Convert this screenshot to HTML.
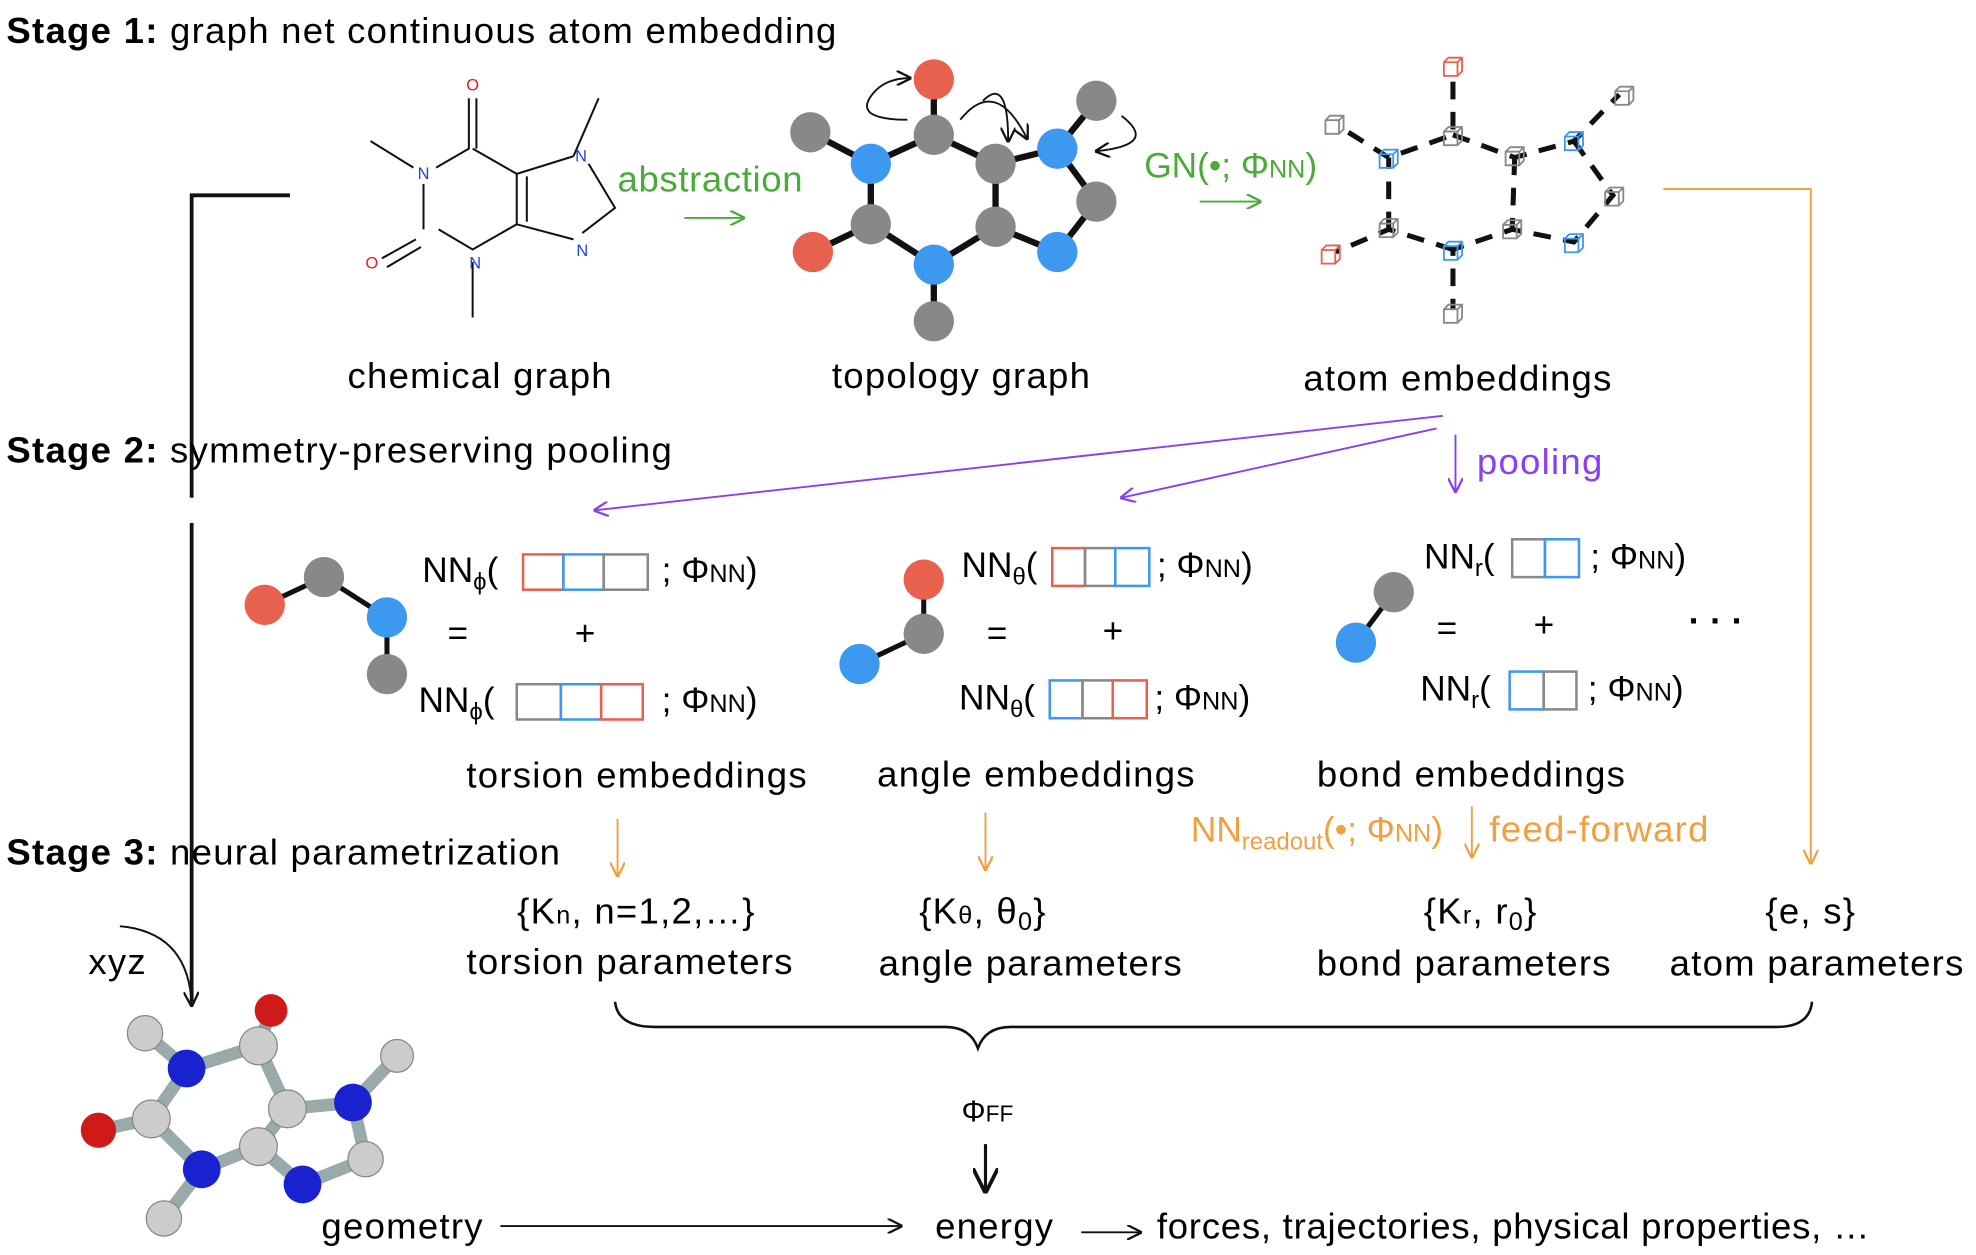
<!DOCTYPE html>
<html><head><meta charset="utf-8"><style>
html,body{margin:0;padding:0;background:#fff;}
svg{display:block;}
text{font-family:"Liberation Sans","DejaVu Sans",sans-serif;}
.t{font-size:29px;letter-spacing:1px;}
</style></head><body>
<svg width="1976" height="1255" viewBox="0 0 1568 996" xmlns="http://www.w3.org/2000/svg">
<defs>
<symbol id="cube" viewBox="0 0 20 20" overflow="visible">
<path d="M2 6 L6 2 L18 2 L18 14 L14 18 L2 18 Z M2 6 L14 6 L14 18 M14 6 L18 2" fill="none" stroke-width="1.6"/>
</symbol>
<marker id="ahk" viewBox="0 0 10 10" refX="9" refY="5" markerWidth="8" markerHeight="8" orient="auto"><path d="M0 0 L10 5 L0 10" fill="none" stroke="#111" stroke-width="1.5"/></marker>
<marker id="ahg" viewBox="0 0 10 10" refX="9" refY="5" markerWidth="8" markerHeight="8" orient="auto"><path d="M0 0 L10 5 L0 10" fill="none" stroke="#4aab3a" stroke-width="1.5"/></marker>
<marker id="ahp" viewBox="0 0 10 10" refX="9" refY="5" markerWidth="8" markerHeight="8" orient="auto"><path d="M0 0 L10 5 L0 10" fill="none" stroke="#8a3ff0" stroke-width="1.5"/></marker>
<marker id="aho" viewBox="0 0 10 10" refX="9" refY="5" markerWidth="8" markerHeight="8" orient="auto"><path d="M0 0 L10 5 L0 10" fill="none" stroke="#f0a040" stroke-width="1.5"/></marker>
</defs>

<path d="M230 155 L152 155 L152 795" fill="none" stroke="#111" stroke-width="3"/>
<rect x="140" y="395" width="24" height="20" fill="#fff"/>

<text class="t" x="5" y="34"><tspan font-weight="bold">Stage 1:</tspan> graph net continuous atom embedding</text>
<text class="t" x="5" y="367"><tspan font-weight="bold">Stage 2:</tspan> symmetry-preserving pooling</text>
<text class="t" x="5" y="686"><tspan font-weight="bold">Stage 3:</tspan> neural parametrization</text>

<g stroke="#111" stroke-width="1.6" fill="none">
<path d="M294 112 L328 133 M346 133 L372 118 L372 78 M378 118 L378 78 M375 118 L410 138 L455 124 M455 124 L475 78 M410 138 L410 178 M418 140 L418 176 M410 178 L375 198 L348 182 M375 208 L375 252 M336 146 L336 182 M330 190 L303 205 M334 196 L307 212 M410 178 L455 190 M462 185 L488 165 L467 130"/>
</g>
<g font-size="13" text-anchor="middle">
<text x="375" y="72" fill="#e02020">O</text>
<text x="336" y="142" fill="#2040e0">N</text>
<text x="461" y="128" fill="#2040e0">N</text>
<text x="462" y="203" fill="#2040e0">N</text>
<text x="377" y="213" fill="#2040e0">N</text>
<text x="295" y="213" fill="#e02020">O</text>
</g>
<text class="t" x="381" y="308" text-anchor="middle">chemical graph</text>

<text class="t" x="490" y="152" fill="#4aab3a" style="letter-spacing:0.5px">abstraction</text>
<line x1="543" y1="173" x2="590" y2="173" stroke="#4aab3a" stroke-width="1.5" marker-end="url(#ahg)"/>

<g stroke="#111" stroke-width="5" fill="none">
<path d="M643 105 L691 130 L741 107 L741 63 M741 107 L790 130 L839 118 L870 80 M839 118 L870 160 L839 200 L790 180 L741 210 L741 255 M741 210 L691 178 L645 200 M691 178 L691 130 M790 130 L790 180"/>
</g>
<g>
<circle cx="643" cy="105" r="16" fill="#888"/><circle cx="691" cy="130" r="16" fill="#3d98ef"/>
<circle cx="741" cy="107" r="16" fill="#888"/><circle cx="741" cy="63" r="16" fill="#e8604e"/>
<circle cx="790" cy="130" r="16" fill="#888"/><circle cx="839" cy="118" r="16" fill="#3d98ef"/>
<circle cx="870" cy="80" r="16" fill="#888"/><circle cx="870" cy="160" r="16" fill="#888"/>
<circle cx="839" cy="200" r="16" fill="#3d98ef"/><circle cx="790" cy="180" r="16" fill="#888"/>
<circle cx="741" cy="210" r="16" fill="#3d98ef"/><circle cx="741" cy="255" r="16" fill="#888"/>
<circle cx="691" cy="178" r="16" fill="#888"/><circle cx="645" cy="200" r="16" fill="#e8604e"/>
</g>
<g fill="none" stroke="#111" stroke-width="1.5">
<path d="M720 95 Q680 95 690 78 Q700 62 722 62" marker-end="url(#ahk)"/>
<path d="M762 95 Q790 60 815 110" marker-end="url(#ahk)"/>
<path d="M780 80 Q800 60 800 112" marker-end="url(#ahk)"/>
<path d="M890 92 Q920 115 870 120" marker-end="url(#ahk)"/>
</g>
<text class="t" x="763" y="308" text-anchor="middle">topology graph</text>

<text x="908" y="141" font-size="28" fill="#4aab3a">GN(•; Φ<tspan font-size="20">NN</tspan>)</text>
<line x1="952" y1="160" x2="1000" y2="160" stroke="#4aab3a" stroke-width="1.5" marker-end="url(#ahg)"/>

<g stroke="#111" stroke-width="4" fill="none">
<path d="M1070 105 L1102 125 L1153 107 L1153 60 M1153 107 L1202 125 L1249 112 L1285 75 M1249 112 L1280 155 L1249 192 L1200 182 L1153 198 L1153 245 M1153 198 L1102 182 L1060 200 M1102 182 L1102 125 M1202 125 L1200 182" stroke-dasharray="14 10"/>
</g>
<g>
<use href="#cube" x="1050" y="90" width="18" height="18" stroke="#888"/>
<use href="#cube" x="1093" y="117" width="18" height="18" stroke="#3d98ef"/>
<use href="#cube" x="1144" y="99" width="18" height="18" stroke="#888"/>
<use href="#cube" x="1144" y="44" width="18" height="18" stroke="#e8604e"/>
<use href="#cube" x="1193" y="115" width="18" height="18" stroke="#888"/>
<use href="#cube" x="1240" y="103" width="18" height="18" stroke="#3d98ef"/>
<use href="#cube" x="1280" y="67" width="18" height="18" stroke="#888"/>
<use href="#cube" x="1272" y="147" width="18" height="18" stroke="#888"/>
<use href="#cube" x="1240" y="184" width="18" height="18" stroke="#3d98ef"/>
<use href="#cube" x="1191" y="173" width="18" height="18" stroke="#888"/>
<use href="#cube" x="1144" y="190" width="18" height="18" stroke="#3d98ef"/>
<use href="#cube" x="1144" y="240" width="18" height="18" stroke="#888"/>
<use href="#cube" x="1093" y="172" width="18" height="18" stroke="#888"/>
<use href="#cube" x="1047" y="193" width="18" height="18" stroke="#e8604e"/>
</g>
<text class="t" x="1157" y="310" text-anchor="middle">atom embeddings</text>

<path d="M1320 150 L1437 150 L1437 685" fill="none" stroke="#f0a040" stroke-width="1.5" marker-end="url(#aho)"/>

<g stroke="#8a3ff0" stroke-width="1.5" fill="none">
<line x1="1145" y1="330" x2="472" y2="405" marker-end="url(#ahp)"/>
<line x1="1140" y1="340" x2="890" y2="395" marker-end="url(#ahp)"/>
<line x1="1155" y1="345" x2="1155" y2="390" marker-end="url(#ahp)"/>
</g>
<text class="t" x="1172" y="376" fill="#8a3ff0">pooling</text>

<g stroke="#111" stroke-width="4" fill="none"><path d="M210 480 L257 458 L307 490 L307 535"/></g>
<circle cx="210" cy="480" r="16" fill="#e8604e"/><circle cx="257" cy="458" r="16" fill="#888"/>
<circle cx="307" cy="490" r="16" fill="#3d98ef"/><circle cx="307" cy="535" r="16" fill="#888"/>
<g font-size="28">
<text x="335" y="462">NN<tspan font-size="19" dy="6">ϕ</tspan><tspan dy="-6">(</tspan></text>
<text x="525" y="462">; Φ<tspan font-size="20">NN</tspan>)</text>
<text x="355" y="512">=</text><text x="456" y="512">+</text>
<text x="332" y="565">NN<tspan font-size="19" dy="6">ϕ</tspan><tspan dy="-6">(</tspan></text>
<text x="525" y="565">; Φ<tspan font-size="20">NN</tspan>)</text>
</g>
<g fill="none" stroke-width="2">
<rect x="415" y="440" width="32" height="28" stroke="#e8604e"/><rect x="447" y="440" width="32" height="28" stroke="#3d98ef"/><rect x="479" y="440" width="35" height="28" stroke="#888"/>
<rect x="410" y="543" width="35" height="28" stroke="#888"/><rect x="445" y="543" width="32" height="28" stroke="#3d98ef"/><rect x="477" y="543" width="33" height="28" stroke="#e8604e"/>
</g>
<text class="t" x="370" y="625">torsion embeddings</text>

<g stroke="#111" stroke-width="4" fill="none"><path d="M733 460 L733 503 L682 527"/></g>
<circle cx="733" cy="460" r="16" fill="#e8604e"/><circle cx="733" cy="503" r="16" fill="#888"/><circle cx="682" cy="527" r="16" fill="#3d98ef"/>
<g font-size="28">
<text x="763" y="458">NN<tspan font-size="19" dy="6">θ</tspan><tspan dy="-6">(</tspan></text>
<text x="918" y="458">; Φ<tspan font-size="20">NN</tspan>)</text>
<text x="783" y="512">=</text><text x="875" y="510">+</text>
<text x="761" y="563">NN<tspan font-size="19" dy="6">θ</tspan><tspan dy="-6">(</tspan></text>
<text x="916" y="563">; Φ<tspan font-size="20">NN</tspan>)</text>
</g>
<g fill="none" stroke-width="2">
<rect x="835" y="435" width="26" height="30" stroke="#e8604e"/><rect x="861" y="435" width="24" height="30" stroke="#888"/><rect x="885" y="435" width="27" height="30" stroke="#3d98ef"/>
<rect x="833" y="540" width="26" height="30" stroke="#3d98ef"/><rect x="859" y="540" width="24" height="30" stroke="#888"/><rect x="883" y="540" width="27" height="30" stroke="#e8604e"/>
</g>
<text class="t" x="696" y="624">angle embeddings</text>

<line x1="1106" y1="470" x2="1076" y2="510" stroke="#111" stroke-width="4"/>
<circle cx="1106" cy="470" r="16" fill="#888"/><circle cx="1076" cy="510" r="16" fill="#3d98ef"/>
<g font-size="28">
<text x="1130" y="451">NN<tspan font-size="19" dy="6">r</tspan><tspan dy="-6">(</tspan></text>
<text x="1262" y="451">; Φ<tspan font-size="20">NN</tspan>)</text>
<text x="1140" y="508">=</text><text x="1217" y="505">+</text>
<text x="1127" y="556">NN<tspan font-size="19" dy="6">r</tspan><tspan dy="-6">(</tspan></text>
<text x="1260" y="556">; Φ<tspan font-size="20">NN</tspan>)</text>
<text x="1340" y="502" font-weight="bold">· · ·</text>
</g>
<g fill="none" stroke-width="2">
<rect x="1200" y="428" width="26" height="30" stroke="#888"/><rect x="1226" y="428" width="27" height="30" stroke="#3d98ef"/>
<rect x="1198" y="533" width="27" height="30" stroke="#3d98ef"/><rect x="1225" y="533" width="26" height="30" stroke="#888"/>
</g>
<text class="t" x="1045" y="624">bond embeddings</text>

<g stroke="#f0a040" stroke-width="1.5">
<line x1="490" y1="650" x2="490" y2="695" marker-end="url(#aho)"/>
<line x1="782" y1="645" x2="782" y2="690" marker-end="url(#aho)"/>
<line x1="1168" y1="640" x2="1168" y2="680" marker-end="url(#aho)"/>
</g>
<text x="945" y="668" font-size="28" fill="#f0a040">NN<tspan font-size="19" dy="6">readout</tspan><tspan dy="-6">(•; Φ</tspan><tspan font-size="20">NN</tspan>)</text>
<text class="t" x="1182" y="668" fill="#f0a040">feed-forward</text>

<g class="t" text-anchor="middle">
<text x="505" y="733">{K<tspan font-size="20">n</tspan>, n=1,2,…}</text>
<text x="500" y="773">torsion parameters</text>
<text x="780" y="733">{K<tspan font-size="20">θ</tspan>, θ<tspan font-size="20" dy="5">0</tspan><tspan dy="-5">}</tspan></text>
<text x="818" y="774">angle parameters</text>
<text x="1175" y="733">{K<tspan font-size="20">r</tspan>, r<tspan font-size="20" dy="5">0</tspan><tspan dy="-5">}</tspan></text>
<text x="1162" y="774">bond parameters</text>
<text x="1437" y="733">{e, s}</text>
<text x="1442" y="774">atom parameters</text>
</g>

<path d="M488 795 Q490 815 520 815 L750 815 Q770 815 776 832 Q782 815 802 815 L1410 815 Q1436 815 1438 795" fill="none" stroke="#111" stroke-width="2"/>

<text x="763" y="890" font-size="24">Φ<tspan font-size="18">FF</tspan></text>
<line x1="782" y1="908" x2="782" y2="945" stroke="#111" stroke-width="2.5" marker-end="url(#ahk)"/>

<text class="t" x="255" y="983">geometry</text>
<line x1="397" y1="973" x2="715" y2="973" stroke="#111" stroke-width="1.5" marker-end="url(#ahk)"/>
<text class="t" x="742" y="983">energy</text>
<line x1="858" y1="978" x2="905" y2="978" stroke="#111" stroke-width="1.5" marker-end="url(#ahk)"/>
<text class="t" x="918" y="983" style="letter-spacing:0.6px">forces, trajectories, physical properties, …</text>

<text class="t" x="70" y="773">xyz</text>
<path d="M95 735 Q150 740 152 798" fill="none" stroke="#111" stroke-width="1.5" marker-end="url(#ahk)"/>

<g stroke="#9aa" stroke-width="10" stroke-linecap="round" fill="none">
<path d="M115 820 L148 848 L205 830 L215 802 M205 830 L228 880 L280 875 L315 838 M280 875 L290 920 L240 940 L205 910 L160 928 L130 967 M160 928 L120 888 L78 897 M120 888 L148 848 M205 910 L228 880"/>
</g>
<g>
<circle cx="115" cy="820" r="14" fill="#ccc" stroke="#888"/>
<circle cx="148" cy="848" r="15" fill="#1a22d0"/>
<circle cx="205" cy="830" r="15" fill="#ccc" stroke="#888"/>
<circle cx="215" cy="802" r="13" fill="#d01a1a"/>
<circle cx="228" cy="880" r="15" fill="#ccc" stroke="#888"/>
<circle cx="280" cy="875" r="15" fill="#1a22d0"/>
<circle cx="315" cy="838" r="13" fill="#ccc" stroke="#888"/>
<circle cx="290" cy="920" r="14" fill="#ccc" stroke="#888"/>
<circle cx="240" cy="940" r="15" fill="#1a22d0"/>
<circle cx="205" cy="910" r="15" fill="#ccc" stroke="#888"/>
<circle cx="160" cy="928" r="15" fill="#1a22d0"/>
<circle cx="130" cy="967" r="14" fill="#ccc" stroke="#888"/>
<circle cx="120" cy="888" r="15" fill="#ccc" stroke="#888"/>
<circle cx="78" cy="897" r="14" fill="#d01a1a"/>
</g>
</svg>
</body></html>
